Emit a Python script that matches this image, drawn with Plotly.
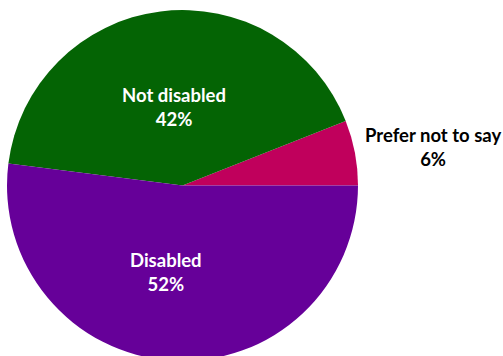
import plotly.graph_objects as go

labels = ["Prefer not to say", "Not disabled", "Disabled"]
values = [6, 42, 52]
colors = ["#C0005C", "#046404", "#660099"]
text_colors = ["#000000", "#FFFFFF", "#FFFFFF"]
# label centres in pixels (x, y from top) of a 503x362 canvas
label_px = [(433, 146.5), (174, 106.5), (166, 271.5)]

W, H = 503, 362
total = sum(values)

fig = go.Figure(go.Pie(
    labels=labels,
    values=values,
    marker=dict(colors=colors, line=dict(width=0)),
    sort=False,
    direction="counterclockwise",
    rotation=90 - 360 * values[0] / total,
    textinfo="none",
    hoverinfo="label+percent",
    domain=dict(x=[7 / W, 358 / W], y=[1 - 361 / H, 1 - 10 / H]),
    showlegend=False,
))

for lab, val, tc, (px, py) in zip(labels, values, text_colors, label_px):
    fig.add_annotation(
        x=px / W, y=1 - py / H, xref="paper", yref="paper",
        text=f"<b>{lab}<br>{round(100 * val / total)}%</b>",
        showarrow=False, xanchor="center", yanchor="middle",
        font=dict(family="Lato", size=18.5, color=tc),
    )

fig.update_layout(
    width=W, height=H,
    margin=dict(l=0, r=0, t=0, b=0),
    paper_bgcolor="white", plot_bgcolor="white",
)

fig.write_html(
    "out.html",
    post_script="document.documentElement.style.overflow='hidden';document.body.style.overflow='hidden';document.body.style.margin='0';",
)
